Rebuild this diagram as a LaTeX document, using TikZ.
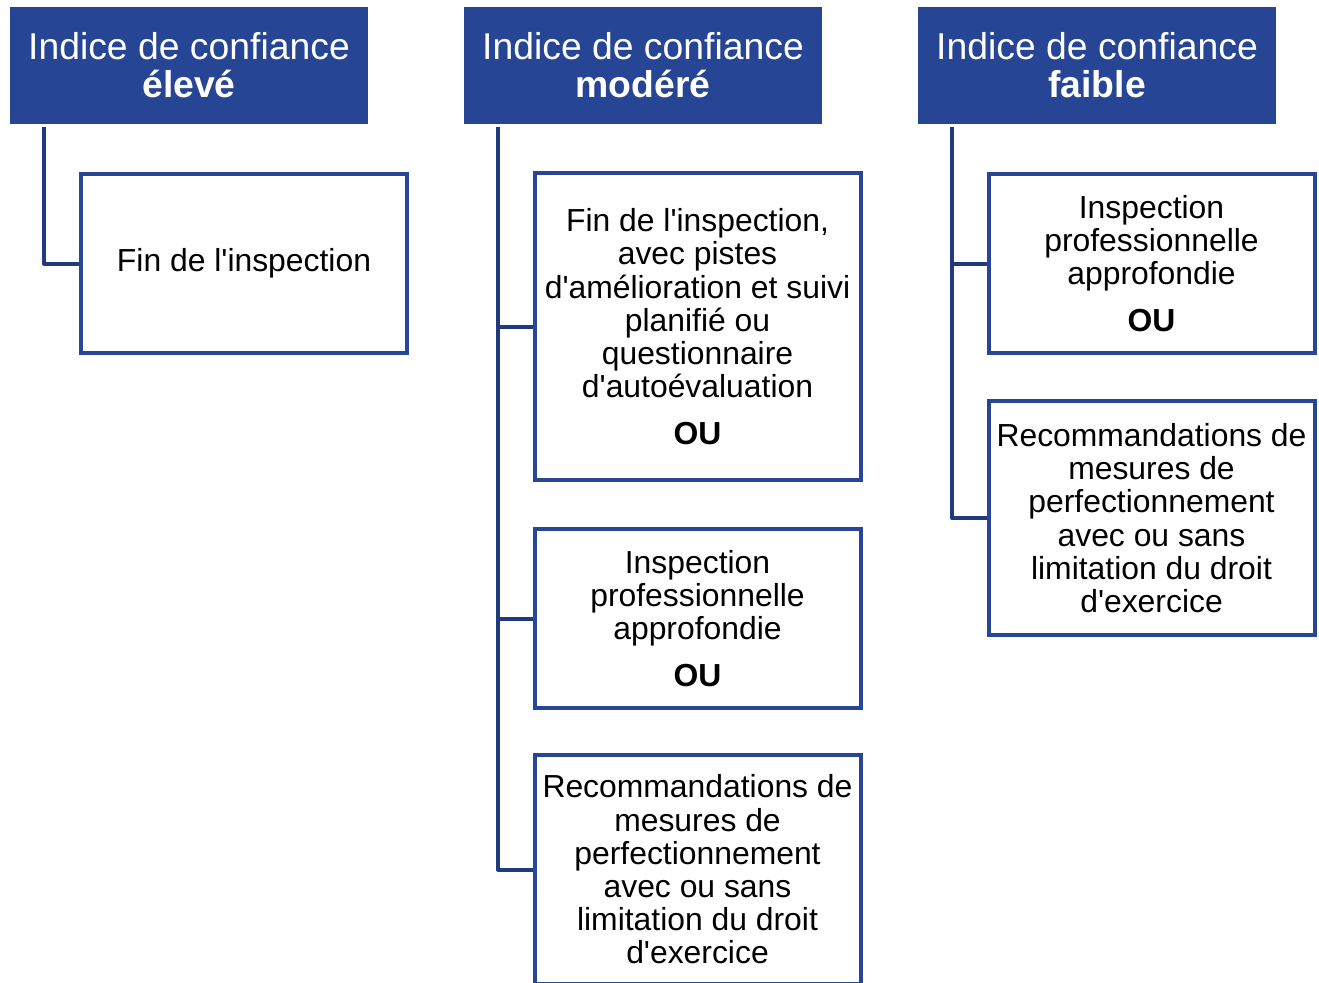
\documentclass[tikz,border=0pt]{standalone}
\usepackage{fontspec}
\setmainfont{Liberation Sans}[Ligatures=TeXOff]
\definecolor{hdr}{RGB}{38,69,148}
\definecolor{brd}{RGB}{40,70,150}
\definecolor{cnx}{RGB}{32,58,128}
\begin{document}
\begin{tikzpicture}[x=0.75pt,y=-0.75pt,
  hdrbox/.style={fill=hdr,draw=none,inner sep=0pt,minimum width=358*0.75pt,minimum height=117*0.75pt,
    text=white,align=center,font=\fontsize{28}{28.5}\selectfont},
  optbox/.style={draw=brd,line width=3pt,fill=white,inner sep=0pt,minimum width=326*0.75pt,
    align=center,font=\fontsize{23.9}{24.9}\selectfont},
  conn/.style={draw=cnx,line width=3pt,line join=round}]
\useasboundingbox (0,0) rectangle (1319,982);
% headers
\node[hdrbox] (h1) at (189,65.5) {Indice de confiance\\\textbf{élevé}};
\node[hdrbox] (h2) at (643,65.5) {Indice de confiance\\\textbf{modéré}};
\node[hdrbox] (h3) at (1097,65.5) {Indice de confiance\\\textbf{faible}};
% boxes
\node[optbox,minimum height=179*0.75pt] (a1) at (244,263.5) {Fin de l'inspection};
\node[optbox,minimum height=307*0.75pt] (b1) at (697.5,326.5) {Fin de l'inspection,\\avec pistes\\d'amélioration et suivi\\planifié ou\\questionnaire\\d'autoévaluation\\[10pt]\textbf{OU}};
\node[optbox,minimum height=179*0.75pt] (b2) at (697.5,618.5) {Inspection\\professionnelle\\approfondie\\[10pt]\textbf{OU}};
\node[optbox,minimum height=229*0.75pt] (b3) at (697.5,869.5) {Recommandations de\\mesures de\\perfectionnement\\avec ou sans\\limitation du droit\\d'exercice};
\node[optbox,minimum height=179*0.75pt] (c1) at (1151.5,263.5) {Inspection\\professionnelle\\approfondie\\[10pt]\textbf{OU}};
\node[optbox,minimum height=234*0.75pt] (c2) at (1151.5,518) {Recommandations de\\mesures de\\perfectionnement\\avec ou sans\\limitation du droit\\d'exercice};
% connectors
\coordinate (t1) at ([xshift=34*0.75pt,yshift=-3*0.75pt]h1.south west);
\coordinate (t2) at ([xshift=34*0.75pt,yshift=-3*0.75pt]h2.south west);
\coordinate (t3) at ([xshift=34*0.75pt,yshift=-3*0.75pt]h3.south west);
\draw[conn] (t1) |- (a1.west);
\draw[conn] (t2) |- (b3.west);
\draw[conn] (b1.west) -- (b1.west -| t2);
\draw[conn] (b2.west) -- (b2.west -| t2);
\draw[conn] (t3) |- (c2.west);
\draw[conn] (c1.west) -- (c1.west -| t3);
\end{tikzpicture}
\end{document}
